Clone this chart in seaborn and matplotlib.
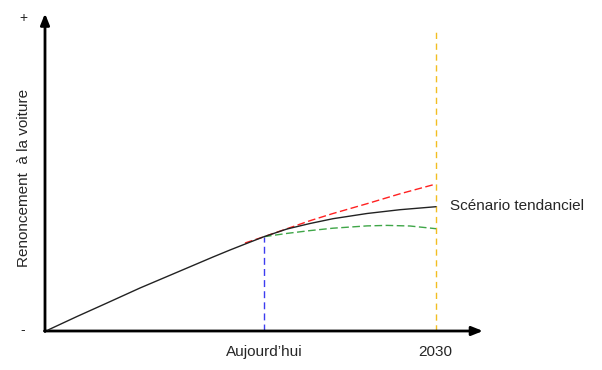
import matplotlib
matplotlib.use("Agg")
import matplotlib.pyplot as plt
import seaborn as sns
import pandas as pd

# ---- data (abstract index units) ----
# Black "Scénario tendanciel" curve
trend_x = [3, 32, 62, 95, 128, 168, 185, 202, 219, 242, 265, 288, 322, 355, 391]
trend_y = [1, 14.5, 28, 43, 57, 74, 81, 87.7, 94.3, 102, 107.5, 112.3, 117.5, 121.3, 124.3]
# Red dashed (high scenario)
high_x = [200, 219, 242, 265, 288, 322, 355, 391]
high_y = [88, 94.3, 102.3, 110.3, 117.5, 127.3, 137.2, 147]
# Green dashed (low scenario)
low_x = [219, 242, 265, 288, 322, 342, 365, 391]
low_y = [94.3, 97.6, 100.4, 102.8, 105.1, 105.6, 105, 102.3]

today_x = 219
horizon_x = 390.5
x_labels = ["Aujourd\u2019hui", "2030"]
y_label = "Renoncement  \u00e0 la voiture"
series_label = "Sc\u00e9nario tendanciel"
y_ends = ["+", "-"]

sns.set_style("white")
plt.rcParams["font.family"] = ["Liberation Sans", "DejaVu Sans"]

W, H = 602, 370
fig = plt.figure(figsize=(W / 100, H / 100), dpi=100)
ox, oy = 45, 331
ax = fig.add_axes([ox / W, (H - oy) / H, (483 - ox) / W, (oy - 13.5) / H])
ax.set_xlim(0, 438)
ax.set_ylim(0, 317.5)
for s in ax.spines.values():
    s.set_visible(False)
ax.set_xticks([])
ax.set_yticks([])

# horizon (2030) vertical dashed line
ax.plot([horizon_x, horizon_x], [0, 302], color="#F2BE22", lw=1.0,
        linestyle=(0, (4.5, 3.3)), zorder=1)
# today vertical dashed line up to the trend value
ax.plot([today_x, today_x], [0, trend_y[trend_x.index(today_x)]], color="#3C3CF0",
        lw=1.0, linestyle=(0, (5, 3)), zorder=2)

sns.lineplot(x=high_x, y=high_y, ax=ax, color="#FF2020", lw=1.0,
             linestyle=(0, (5.5, 2.5)), zorder=3)
sns.lineplot(x=low_x, y=low_y, ax=ax, color="#3FA648", lw=1.0,
             linestyle=(0, (5.5, 2.5)), zorder=3)
sns.lineplot(x=trend_x, y=trend_y, ax=ax, color="#222222", lw=1.0, zorder=4)

# axis arrows
arrow = dict(arrowstyle="-|>,head_length=0.55,head_width=0.22", lw=2.0,
             color="black", shrinkA=0, shrinkB=0, mutation_scale=12)
ax.annotate("", xy=(438, 0), xytext=(-0.5, 0), arrowprops=arrow,
            annotation_clip=False)
ax.annotate("", xy=(0, 317.5), xytext=(0, -0.5), arrowprops=arrow,
            annotation_clip=False)

fs = 11
ax.text(today_x, -21, x_labels[0], ha="center", va="center", fontsize=fs)
ax.text(horizon_x, -21, x_labels[1], ha="center", va="center", fontsize=fs)
ax.text(405, 125, series_label, ha="left", va="center", fontsize=fs)
ax.text(-22, 313, y_ends[0], ha="center", va="center", fontsize=10)
ax.text(-22, 1, y_ends[1], ha="center", va="center", fontsize=10)
ax.text(-21, 153, y_label, ha="center", va="center", rotation=90, fontsize=fs)

fig.savefig("out.png", dpi=100)
